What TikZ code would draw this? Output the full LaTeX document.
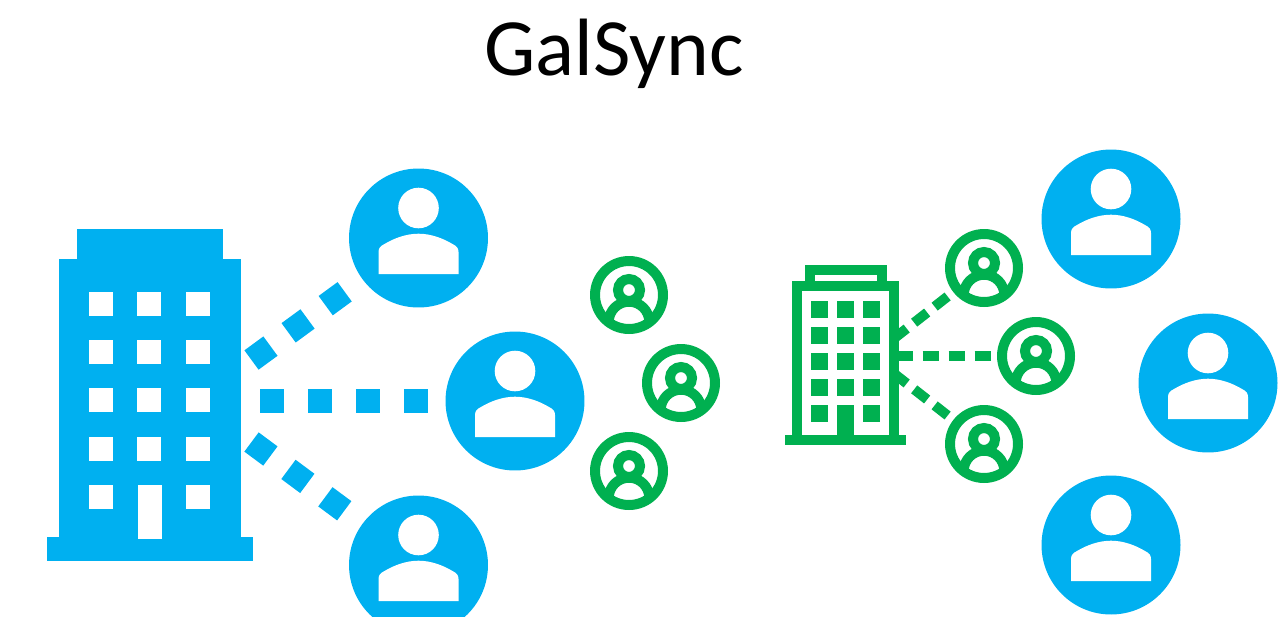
\documentclass[tikz,border=0pt]{standalone}
\usepackage{fontspec}
\setmainfont{Carlito}
\usepackage{xcolor}
\usetikzlibrary{positioning}
\definecolor{galblue}{HTML}{00B0F0}
\definecolor{galgreen}{HTML}{00B050}

\begin{document}
\begin{tikzpicture}[
  x=0.02cm, y=-0.02cm,
  title/.style={font=\fontsize{46.3pt}{56pt}\selectfont, anchor=base, inner sep=0pt},
  bluepart/.style={fill=galblue, inner sep=0pt, outer sep=0pt},
  greenpart/.style={fill=galgreen, inner sep=0pt, outer sep=0pt},
  greenframe/.style={draw=galgreen, fill=white, line width=0.2cm, inner sep=0pt, outer sep=0pt},
  bluewin/.style={fill=white, minimum size=0.48cm, inner sep=0pt, outer sep=0pt},
  greenwin/.style={fill=galgreen, minimum size=0.34cm, inner sep=0pt, outer sep=0pt},
  blueperson/.style={circle, fill=galblue, minimum size=2.78cm, inner sep=0pt, outer sep=0pt,
    path picture={
      \fill[white, shift={(path picture bounding box.center)}] (0,-30) circle [radius=20.3];
      \fill[white, shift={(path picture bounding box.center)}] (-40,36) -- (-40,14)
        .. controls (-40,10) and (-38,8) .. (-34,6)
        .. controls (-24,0) and (-12,-4.3) .. (0,-4.3)
        .. controls (12,-4.3) and (24,0) .. (34,6)
        .. controls (38,8) and (40,10) .. (40,14) -- (40,36) -- cycle;
    }},
  greenperson/.style={circle, draw=galgreen, fill=white, line width=0.2cm, minimum size=1.36cm, inner sep=0pt,
    path picture={
      \draw[galgreen, line width=0.2cm, shift={(path picture bounding box.center)}] (0,27) circle [radius=20.3];
      \draw[galgreen, fill=white, line width=0.2cm, shift={(path picture bounding box.center)}] (0,-5) circle [radius=11];
    }},
  bluelink/.style={draw=galblue, line width=0.48cm, dash pattern=on 0.48cm off 0.48cm},
  bluediag/.style={draw=galblue, line width=0.48cm, dash pattern=on 0.47cm off 0.45cm},
  greenlink/.style={draw=galgreen, line width=0.2cm, dash pattern=on 0.33cm off 0.19cm},
]
\useasboundingbox (0,0) rectangle (1280,616);

% Title
\node[title] (title) at (614,75) {GalSync};

% Blue tower
\node[bluepart, minimum width=2.92cm, minimum height=0.6cm] (bluecap) at (150,244) {};
\node[bluepart, minimum width=3.64cm, minimum height=5.56cm] (bluebody) at (150,398) {};
\node[bluepart, minimum width=4.12cm, minimum height=0.48cm] (bluebase) at (150,549) {};

% Blue tower windows
\node[bluewin] (b11) at (101,304) {};
\node[bluewin, right=0.49cm of b11] (b12) {};
\node[bluewin, right=0.49cm of b12] (b13) {};
\node[bluewin, below=0.485cm of b11] (b21) {};
\node[bluewin, right=0.49cm of b21] (b22) {};
\node[bluewin, right=0.49cm of b22] (b23) {};
\node[bluewin, below=0.485cm of b21] (b31) {};
\node[bluewin, right=0.49cm of b31] (b32) {};
\node[bluewin, right=0.49cm of b32] (b33) {};
\node[bluewin, below=0.485cm of b31] (b41) {};
\node[bluewin, right=0.49cm of b41] (b42) {};
\node[bluewin, right=0.49cm of b42] (b43) {};
\node[bluewin, below=0.485cm of b41] (b51) {};
\node[bluewin, right=1.46cm of b51] (b53) {};
\node[bluewin, minimum height=1.08cm] (bluedoor) at (150,512) {};

% Blue people, left
\node[blueperson] (pa) at (418.5,238) {};
\node[blueperson] (pb) at (515,401) {};
\node[blueperson] (pc) at (418.5,565) {};

% Blue links
\coordinate (la) at (251.5,360);
\coordinate (lb) at (260,401);
\coordinate (lc) at (251.5,442);
\draw[bluediag, shorten >=0.42cm] (la) -- (pa.216);
\draw[bluelink, shorten >=0.36cm] (lb) -- (pb.west);
\draw[bluediag, shorten >=0.42cm] (lc) -- (pc.144);

% Green people, middle
\node[greenperson] (ga) at (629,295) {};
\node[greenperson] (gb) at (681,383) {};
\node[greenperson] (gc) at (629,471) {};

% Green tower
\node[greenframe, minimum width=1.44cm, minimum height=0.32cm] (greencap) at (846,278) {};
\node[greenpart, minimum width=2.42cm, minimum height=0.2cm] (greenbase) at (845.5,440) {};

% Green links
\coordinate (ma) at (893.7,338.7);
\coordinate (mb) at (896.5,356);
\coordinate (mc) at (893.7,373.3);
\node[greenperson] (ha) at (984,268) {};
\node[greenperson] (hb) at (1036,356) {};
\node[greenperson] (hc) at (984,444) {};
\draw[greenlink, shorten >=0.14cm] (ma) -- (ha.218);
\draw[greenlink, shorten >=0.12cm] (mb) -- (hb.west);
\draw[greenlink, shorten >=0.14cm] (mc) -- (hc.142);
\node[greenframe, minimum width=1.94cm, minimum height=3.08cm] (greenbody) at (845.5,363) {};

% Green tower windows
\node[greenwin] (g11) at (819.5,309.5) {};
\node[greenwin, right=0.18cm of g11] (g12) {};
\node[greenwin, right=0.18cm of g12] (g13) {};
\node[greenwin, below=0.18cm of g11] (g21) {};
\node[greenwin, right=0.18cm of g21] (g22) {};
\node[greenwin, right=0.18cm of g22] (g23) {};
\node[greenwin, below=0.18cm of g21] (g31) {};
\node[greenwin, right=0.18cm of g31] (g32) {};
\node[greenwin, right=0.18cm of g32] (g33) {};
\node[greenwin, below=0.18cm of g31] (g41) {};
\node[greenwin, right=0.18cm of g41] (g42) {};
\node[greenwin, right=0.18cm of g42] (g43) {};
\node[greenwin, below=0.18cm of g41] (g51) {};
\node[greenwin, right=0.7cm of g51] (g53) {};
\node[greenwin, minimum height=0.6cm] (greendoor) at (845.5,420) {};

% Blue people, right
\node[blueperson] (qa) at (1111,219) {};
\node[blueperson] (qb) at (1208,383) {};
\node[blueperson] (qc) at (1111,545) {};

\end{tikzpicture}
\end{document}
